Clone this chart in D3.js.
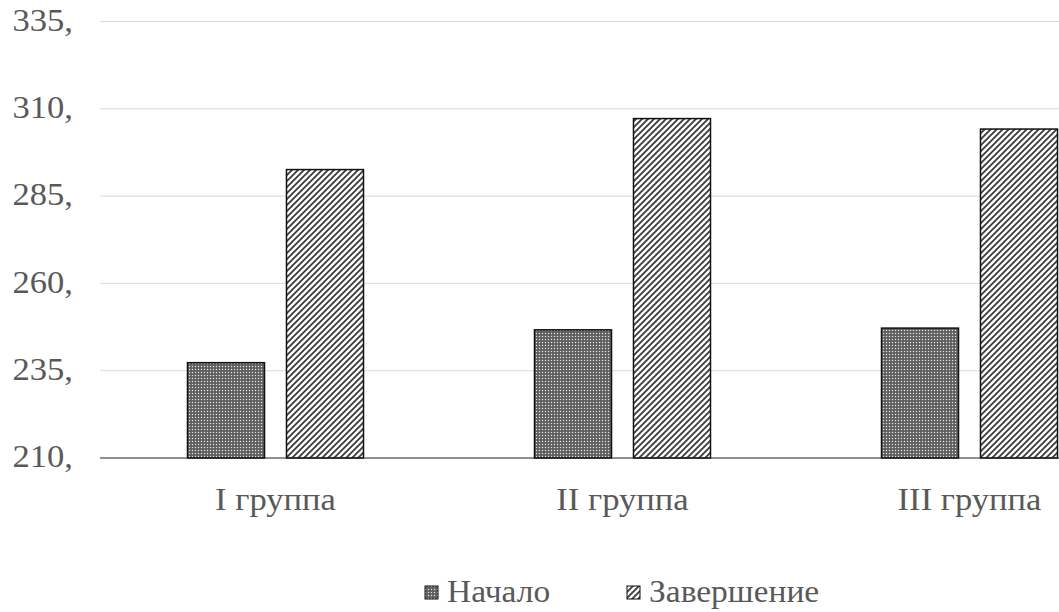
<!DOCTYPE html>
<html>
<head>
<meta charset="utf-8">
<script src="https://cdn.jsdelivr.net/npm/d3@7"></script>
<style>
  body { margin: 0; background: #fff; }
  svg { display: block; }
</style>
</head>
<body>
<div id="chart"></div>
<script>
var groups = ["I группа", "II группа", "III группа"];
var seriesNames = ["Начало", "Завершение"];
var startValues = [237.3, 246.7, 247.2];
var endValues = [292.6, 307.2, 304.2];
var yTicks = [210, 235, 260, 285, 310, 335];
var yTickLabels = ["210,", "235,", "260,", "285,", "310,", "335,"];

var width = 1059, height = 612;
var fontFamily = "'Liberation Serif', 'DejaVu Serif', serif";
var textColor = "#595959";
var stretch = 1.08; // original font is a bit wider than Liberation Serif

var svg = d3.select("#chart").append("svg")
    .attr("width", width)
    .attr("height", height)
    .attr("font-family", fontFamily);

var defs = svg.append("defs");

// dotted / checker fill for "Начало"
var p1 = defs.append("pattern")
    .attr("id", "pat-start")
    .attr("patternUnits", "userSpaceOnUse")
    .attr("width", 3).attr("height", 3);
p1.append("rect").attr("width", 3).attr("height", 3).attr("fill", "#6e6e6e");
p1.append("rect").attr("x", 0).attr("y", 0).attr("width", 1).attr("height", 1).attr("fill", "#e6e6e6");
p1.append("rect").attr("x", 1.5).attr("y", 1.5).attr("width", 1).attr("height", 1).attr("fill", "#333");

// diagonal hatch for "Завершение"
var p2 = defs.append("pattern")
    .attr("id", "pat-end")
    .attr("patternUnits", "userSpaceOnUse")
    .attr("width", 6).attr("height", 6);
p2.append("rect").attr("width", 6).attr("height", 6).attr("fill", "#fff");
p2.append("path")
    .attr("d", "M0,6 L6,0 M-1,1 L1,-1 M5,7 L7,5")
    .attr("stroke", "#3a3a3a")
    .attr("stroke-width", 1.8);

var fills = ["url(#pat-start)", "url(#pat-end)"];

var y = d3.scaleLinear().domain([210, 335]).range([458, 21.5]);

// plot is wider than the picture: the third group is cut on the right
var x0 = d3.scaleBand().domain(groups).range([102, 102 + 3 * 347]);
var x1 = d3.scaleBand().domain(seriesNames).range([85.5, 261.5]).paddingInner(0.222);

var widen = function(sel) {
    sel.each(function() {
        var len = this.getComputedTextLength();
        d3.select(this)
            .attr("textLength", len * stretch)
            .attr("lengthAdjust", "spacingAndGlyphs");
    });
};

// gridlines
svg.append("g").selectAll("line")
    .data(yTicks.slice(1))
    .enter().append("line")
    .attr("x1", 100).attr("x2", width)
    .attr("y1", function(d) { return y(d); })
    .attr("y2", function(d) { return y(d); })
    .attr("stroke", "#d9d9d9")
    .attr("stroke-width", 1);

// y tick labels
svg.append("g").selectAll("text")
    .data(yTicks)
    .enter().append("text")
    .attr("x", 73)
    .attr("y", function(d) { return y(d); })
    .attr("dy", "0.29em")
    .attr("text-anchor", "end")
    .attr("font-size", 32)
    .attr("fill", textColor)
    .text(function(d, i) { return yTickLabels[i]; })
    .call(widen);

// bars
var rows = groups.map(function(g, i) {
    return { group: g, values: [startValues[i], endValues[i]] };
});

var gGroup = svg.append("g").selectAll("g")
    .data(rows)
    .enter().append("g")
    .attr("transform", function(d) { return "translate(" + x0(d.group) + ",0)"; });

gGroup.selectAll("rect")
    .data(function(d) { return d.values.map(function(v, j) { return { name: seriesNames[j], value: v, idx: j }; }); })
    .enter().append("rect")
    .attr("x", function(d) { return x1(d.name); })
    .attr("y", function(d) { return y(d.value); })
    .attr("width", x1.bandwidth())
    .attr("height", function(d) { return y(210) - y(d.value); })
    .attr("fill", function(d) { return fills[d.idx]; })
    .attr("stroke", "#111")
    .attr("stroke-width", 1.5);

// baseline
svg.append("line")
    .attr("x1", 100).attr("x2", width)
    .attr("y1", y(210)).attr("y2", y(210))
    .attr("stroke", "#222")
    .attr("stroke-width", 1.2);

// category labels
svg.append("g").selectAll("text")
    .data(groups)
    .enter().append("text")
    .attr("x", function(d) { return x0(d) + x0.bandwidth() / 2; })
    .attr("y", 510)
    .attr("text-anchor", "middle")
    .attr("font-size", 32)
    .attr("fill", textColor)
    .text(function(d) { return d; })
    .call(widen);

// legend
var legendX = [425, 627];
var legend = svg.append("g").selectAll("g")
    .data(seriesNames)
    .enter().append("g")
    .attr("transform", function(d, i) { return "translate(" + legendX[i] + ",586)"; });

legend.append("rect")
    .attr("width", 13).attr("height", 13)
    .attr("fill", function(d, i) { return fills[i]; })
    .attr("stroke", "#111")
    .attr("stroke-width", 1);

legend.append("text")
    .attr("x", 22)
    .attr("y", 16)
    .attr("font-size", 31)
    .attr("fill", textColor)
    .text(function(d) { return d; })
    .call(widen);
</script>
</body>
</html>
